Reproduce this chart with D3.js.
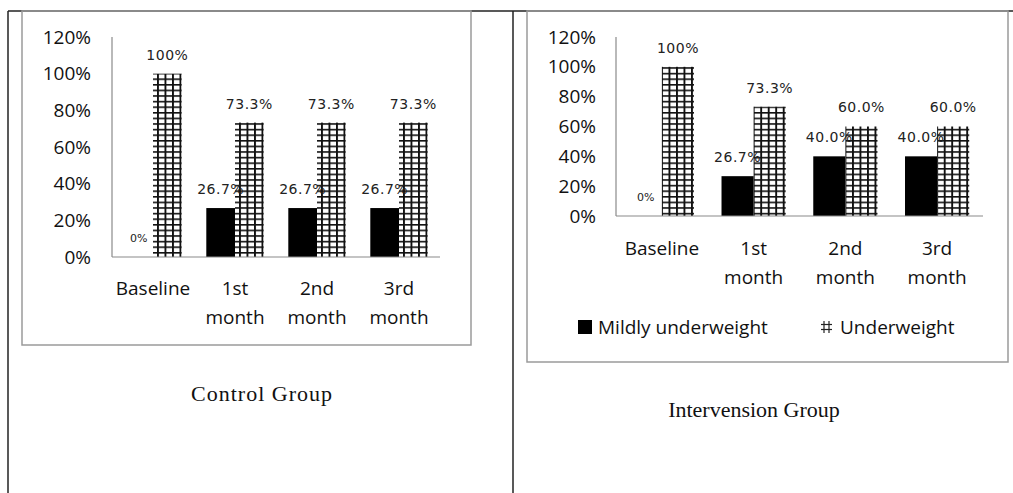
<!DOCTYPE html>
<html>
<head>
<meta charset="utf-8">
<script src="https://cdn.jsdelivr.net/npm/d3@7"></script>
<style>
  body { margin: 0; background: #fff; }
  svg { display: block; }
</style>
</head>
<body>
<script>
// values
const categories = ["Baseline", "1st month", "2nd month", "3rd month"];
const seriesNames = ["Mildly underweight", "Underweight"];
const yTicks = [0, 20, 40, 60, 80, 100, 120];

const controlMild = [0, 26.7, 26.7, 26.7];
const controlUnder = [100, 73.3, 73.3, 73.3];
const controlMildLabels = ["0%", "26.7%", "26.7%", "26.7%"];
const controlUnderLabels = ["100%", "73.3%", "73.3%", "73.3%"];

const interMild = [0, 26.7, 40.0, 40.0];
const interUnder = [100, 73.3, 60.0, 60.0];
const interMildLabels = ["0%", "26.7%", "40.0%", "40.0%"];
const interUnderLabels = ["100%", "73.3%", "60.0%", "60.0%"];

const W = 1013, H = 493;

const svg = d3.select("body").append("svg")
    .attr("width", W)
    .attr("height", H);

const defs = svg.append("defs");
const pat = defs.append("pattern")
    .attr("id", "grid")
    .attr("patternUnits", "userSpaceOnUse")
    .attr("width", 7.5)
    .attr("height", 5.6);
pat.append("rect").attr("width", 7.5).attr("height", 5.6).attr("fill", "#fff");
pat.append("rect").attr("x", 0).attr("y", 0).attr("width", 1.9).attr("height", 5.6).attr("fill", "#111");
pat.append("rect").attr("x", 0).attr("y", 0).attr("width", 7.5).attr("height", 1.6).attr("fill", "#111");

// table lines
svg.append("line").attr("x1", 8).attr("x2", W).attr("y1", 11).attr("y2", 11)
    .attr("stroke", "#222").attr("stroke-width", 1.5);
svg.append("line").attr("x1", 8).attr("x2", 8).attr("y1", 11).attr("y2", H)
    .attr("stroke", "#222").attr("stroke-width", 1.5);
svg.append("line").attr("x1", 513).attr("x2", 513).attr("y1", 11).attr("y2", H)
    .attr("stroke", "#222").attr("stroke-width", 1.5);

const TICK_FONT = "'Open Sans', Lato, sans-serif";
const VAL_FONT = "'DejaVu Sans', Verdana, sans-serif";

function drawChart(cfg) {
    const g = svg.append("g");

    // chart frame
    g.append("rect")
        .attr("x", cfg.box[0]).attr("y", cfg.box[1])
        .attr("width", cfg.box[2]).attr("height", cfg.box[3])
        .attr("fill", "none").attr("stroke", "#9a9a9a").attr("stroke-width", 1.5);

    const y = d3.scaleLinear().domain([0, 120]).range([cfg.bottom, cfg.top]);
    const x0 = d3.scaleBand().domain(categories).range([cfg.left, cfg.right]).padding(0);
    const bw = x0.bandwidth();
    const x1 = d3.scaleBand().domain(seriesNames).range([bw * 0.15, bw * 0.85]).padding(0);

    // y tick labels
    g.selectAll(".ytick").data(yTicks).enter().append("text")
        .attr("x", cfg.tickX)
        .attr("y", d => y(d))
        .attr("dy", "0.35em")
        .attr("text-anchor", "end")
        .attr("font-family", TICK_FONT)
        .attr("font-size", 19)
        .attr("fill", "#111")
        .text(d => d + "%");

    // axis lines
    g.append("line")
        .attr("x1", cfg.left).attr("x2", cfg.left)
        .attr("y1", y(120)).attr("y2", y(0))
        .attr("stroke", "#8a8a8a").attr("stroke-width", 1.2);

    const rows = categories.map((c, i) => ({
        cat: c,
        vals: [
            {s: seriesNames[0], v: cfg.mild[i], lab: cfg.mildLab[i]},
            {s: seriesNames[1], v: cfg.under[i], lab: cfg.underLab[i]}
        ]
    }));

    const grp = g.selectAll(".grp").data(rows).enter().append("g")
        .attr("transform", d => `translate(${x0(d.cat)},0)`);

    grp.selectAll("rect").data(d => d.vals).enter().append("rect")
        .attr("x", d => x1(d.s))
        .attr("y", d => y(d.v))
        .attr("width", x1.bandwidth())
        .attr("height", d => y(0) - y(d.v))
        .attr("fill", d => d.s === seriesNames[0] ? "#000" : "url(#grid)");

    grp.selectAll(".val").data(d => d.vals).enter().append("text")
        .attr("x", d => x1(d.s) + x1.bandwidth() / 2)
        .attr("y", d => y(d.v) - 19)
        .attr("dy", "0.35em")
        .attr("text-anchor", "middle")
        .attr("font-family", VAL_FONT)
        .attr("font-size", d => d.v === 0 ? 11 : 14)
        .attr("letter-spacing", d => d.v === 0 ? 0 : 0.5)
        .attr("fill", "#222")
        .text(d => d.lab);

    g.append("line")
        .attr("x1", cfg.left).attr("x2", cfg.right)
        .attr("y1", y(0)).attr("y2", y(0))
        .attr("stroke", "#8a8a8a").attr("stroke-width", 1.2);

    // category labels (wrapped)
    const cl = g.selectAll(".cat").data(categories).enter().append("text")
        .attr("text-anchor", "middle")
        .attr("font-family", TICK_FONT)
        .attr("font-size", 19)
        .attr("fill", "#111");
    cl.each(function(d) {
        const parts = d.split(" ");
        const t = d3.select(this);
        parts.forEach((p, k) => {
            t.append("tspan")
                .attr("x", x0(d) + bw / 2)
                .attr("y", y(0) + cfg.catDy + k * 29)
                .attr("dy", "0.35em")
                .text(p);
        });
    });

    // group caption
    g.append("text")
        .attr("x", cfg.titleX).attr("y", cfg.titleY)
        .attr("dy", "0.35em")
        .attr("text-anchor", "middle")
        .attr("font-family", "'Liberation Serif', 'Times New Roman', serif")
        .attr("font-size", 22)
        .attr("letter-spacing", cfg.titleSpacing)
        .attr("fill", "#111")
        .text(cfg.title);

    return {g, y, x0};
}

drawChart({
    box: [22, 11, 449, 334],
    left: 112, right: 440, top: 37, bottom: 257,
    tickX: 91, catDy: 31,
    mild: controlMild, under: controlUnder,
    mildLab: controlMildLabels, underLab: controlUnderLabels,
    title: "Control Group", titleX: 262, titleY: 393, titleSpacing: 1
});

const right = drawChart({
    box: [527, 11, 481, 351],
    left: 616, right: 983, top: 37, bottom: 216,
    tickX: 596, catDy: 32,
    mild: interMild, under: interUnder,
    mildLab: interMildLabels, underLab: interUnderLabels,
    title: "Intervension Group", titleX: 754, titleY: 409, titleSpacing: 0
});

// legend
const leg = right.g.append("g").attr("transform", "translate(578,327)");
leg.append("rect").attr("x", 0).attr("y", -7).attr("width", 14).attr("height", 14).attr("fill", "#000");
leg.append("text").attr("x", 20).attr("y", 0).attr("dy", "0.35em")
    .attr("font-family", TICK_FONT).attr("font-size", 19).attr("fill", "#111")
    .text(seriesNames[0]);
// small grid symbol for the hatched series
const sym = leg.append("g").attr("transform", "translate(243,0)")
    .attr("stroke", "#222").attr("stroke-width", 1.2);
[3, 8].forEach(v => {
    sym.append("line").attr("x1", v).attr("x2", v).attr("y1", -6).attr("y2", 6);
});
[-2.5, 2.5].forEach(v => {
    sym.append("line").attr("x1", 0).attr("x2", 11).attr("y1", v).attr("y2", v);
});
leg.append("text").attr("x", 262).attr("y", 0).attr("dy", "0.35em")
    .attr("font-family", TICK_FONT).attr("font-size", 19).attr("fill", "#111")
    .text(seriesNames[1]);
</script>
</body>
</html>
